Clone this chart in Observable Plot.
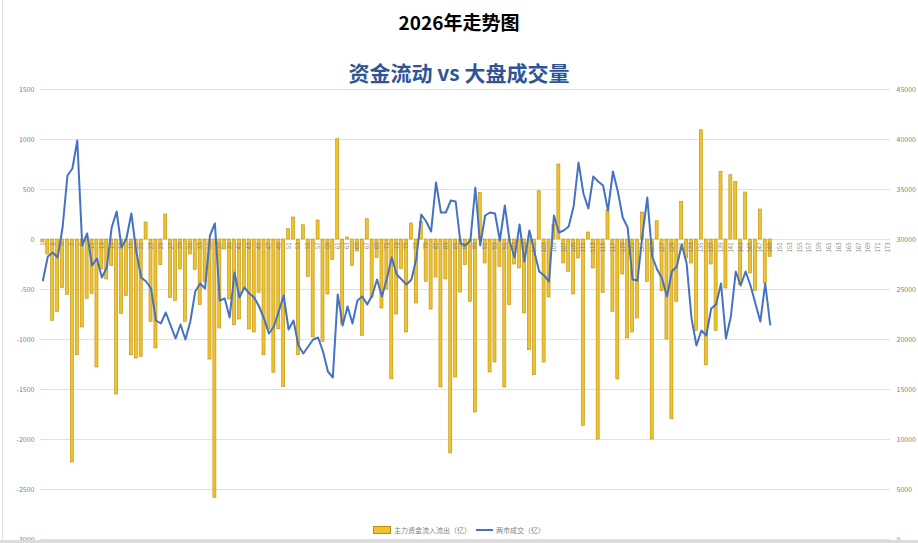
<!DOCTYPE html>
<html><head><meta charset="utf-8">
<script src="https://cdn.jsdelivr.net/npm/d3@7"></script>
<script src="https://cdn.jsdelivr.net/npm/@observablehq/plot@0.6"></script>
<style>
body{margin:0;width:918px;height:543px;overflow:hidden;background:#fff;font-family:"Noto Sans CJK SC","Noto Sans",sans-serif;position:relative}
#title{position:absolute;left:0;width:918px;top:9px;text-align:center;font-size:19px;font-weight:bold;color:#000;line-height:26px}
#subtitle{position:absolute;left:0;width:918px;top:58px;text-align:center;font-size:21px;font-weight:bold;color:#2F5597;line-height:28px}
#chart{position:absolute;left:0;top:80px}
#legend{position:absolute;top:524px;left:0;width:918px;display:flex;justify-content:center;align-items:center;font-size:7px;color:#808080;line-height:12px}
.sw{display:inline-block;margin-right:3px}
#frameL{position:absolute;left:2px;top:0;width:1px;height:543px;background:#e0e0e0}
#frameB{position:absolute;left:0;top:540px;width:918px;height:3px;background:#dcdcdc}
</style></head>
<body>
<div id="frameL"></div>
<div id="title">2026年走势图</div>
<div id="subtitle">资金流动 vs 大盘成交量</div>
<div id="chart"></div>
<div id="legend">
  <span class="sw" style="width:16px;height:6px;background:#F2C12E;border:1px solid #B8900A"></span><span style="margin-right:5px">主力资金流入流出（亿）</span>
  <span class="sw" style="width:17px;height:2px;background:#4472C4"></span><span>两市成交（亿）</span>
</div>
<div id="frameB"></div>
<script>
// categories (x axis)
const categories = [1,2,3,4,5,6,7,8,9,10,11,12,13,14,15,16,17,18,19,20,21,22,23,24,25,26,27,28,29,30,31,32,33,34,35,36,37,38,39,40,41,42,43,44,45,46,47,48,49,50,51,52,53,54,55,56,57,58,59,60,61,62,63,64,65,66,67,68,69,70,71,72,73,74,75,76,77,78,79,80,81,82,83,84,85,86,87,88,89,90,91,92,93,94,95,96,97,98,99,100,101,102,103,104,105,106,107,108,109,110,111,112,113,114,115,116,117,118,119,120,121,122,123,124,125,126,127,128,129,130,131,132,133,134,135,136,137,138,139,140,141,142,143,144,145,146,147,148,149,150,151,152,153,154,155,156,157,158,159,160,161,162,163,164,165,166,167,168,169,170,171,172,173];
// x tick labels (every other category)
const xTickLabels = [1,3,5,7,9,11,13,15,17,19,21,23,25,27,29,31,33,35,37,39,41,43,45,47,49,51,53,55,57,59,61,63,65,67,69,71,73,75,77,79,81,83,85,87,89,91,93,95,97,99,101,103,105,107,109,111,113,115,117,119,121,123,125,127,129,131,133,135,137,139,141,143,145,147,149,151,153,155,157,159,161,163,165,167,169,171,173];
// 主力资金流入流出（亿）— left axis
const flow = [-30,-150,-813,-723,-485,-553,-2230,-1157,-880,-593,-545,-1280,-300,-400,-263,-1550,-745,-565,-1157,-1190,
-1173,170,-823,-1090,-257,250,-585,-615,-300,-823,-150,-303,-653,-423,-1200,-2583,-890,-100,-600,-857,
-800,-500,-900,-930,-533,-1157,-900,-1333,-897,-1473,103,220,-1157,143,-373,-980,190,-1023,-550,-207,
1003,-850,20,-263,-120,-963,203,-583,-183,-690,-500,-1397,-750,-297,-930,160,-640,177,-423,-700,
-380,-1480,-400,-2140,-1380,-530,-257,-623,-1730,467,-240,-1330,-1230,-273,-1480,-657,-250,-290,-740,-1107,
-1357,483,-1230,-580,150,750,-240,-323,-550,-190,-1863,70,-290,-2000,-533,293,-723,-1400,-350,-990,
-930,-790,270,-423,-2000,183,-517,-1000,-1797,-623,377,-190,-240,-913,1093,-1257,-250,-913,677,-490,
643,577,-457,470,-340,-513,300,-440,-173];
// 两市成交（亿）— right axis
const volume = [25900,28300,28700,28200,31200,36400,37100,39900,29400,30600,27400,28100,26200,27200,31200,32800,29200,30100,32600,28800,
26200,25800,25100,21900,21600,22700,21400,20100,21500,20000,21800,24800,25600,25100,30400,31600,23900,24100,22200,26700,
24200,25200,24600,24200,23300,22100,20600,21300,22800,24400,21000,21900,19400,18600,19300,20000,20200,18800,16800,16200,
24500,21400,23300,21600,23900,24300,23500,24400,26000,24300,26100,28200,26500,26000,25500,26000,28100,32500,31800,30800,
35700,32700,32700,33900,33800,29600,29400,29900,35200,29400,32400,32700,32600,29900,33400,29800,28200,31500,27800,30900,
28800,26800,26400,25800,32400,30700,30900,31300,33300,37700,34600,33100,36300,35800,35400,32900,36800,34800,32200,31200,
26000,25900,30400,34200,28300,27000,26100,24300,26800,27300,29500,27600,22100,19400,20900,20400,23100,23500,25600,20100,
22300,26800,25400,26800,25400,23600,21800,25600,21500];
// axis ticks
const leftTicks = [-3000,-2500,-2000,-1500,-1000,-500,0,500,1000,1500];
const rightTicks = [0,5000,10000,15000,20000,25000,30000,35000,40000,45000];

// dual-axis mapping: right value r ↔ left value (r - 30000) / 10
const toLeft = r => (r - 30000) / 10;
const rows = flow.map((f, i) => ({cat: categories[i], flow: f, vol: volume[i]}));

const chart = Plot.plot({
  width: 918,
  height: 463,
  marginTop: 9,
  marginBottom: 4,
  marginLeft: 40,
  marginRight: 28,
  style: {fontFamily: "'Noto Sans CJK SC','Liberation Sans',sans-serif", background: "transparent"},
  x: {type: "band", domain: categories, paddingInner: 0.38, paddingOuter: 0.18, axis: null},
  y: {domain: [-3000, 1500], axis: null},
  marks: [
    Plot.ruleY(leftTicks, {stroke: "#d9d9d9", strokeWidth: 0.8}),
    Plot.barY(rows, {x: "cat", y: "flow", fill: "#F2C12E", stroke: "#B8900A", strokeWidth: 0.6}),
    Plot.line(rows, {x: "cat", y: d => toLeft(d.vol), stroke: "#4472C4", strokeWidth: 2, strokeLinejoin: "round"}),
    Plot.text(xTickLabels, {x: d => d, y: d => 0, text: d => String(d), rotate: -90, textAnchor: "end", lineAnchor: "middle", dy: 3, fontSize: 6, fill: "#808080"}),
    Plot.axisY({anchor: "left", ticks: leftTicks, tickFormat: d => String(d), tickSize: 0, tickPadding: 6, fontSize: 7, fill: "#808080", label: null}),
    Plot.axisY({anchor: "right", ticks: rightTicks.map(toLeft), tickFormat: d => String(Math.round(d * 10 + 30000)), tickSize: 0, tickPadding: 6, fontSize: 7, fill: "#808080", label: null})
  ]
});
document.getElementById("chart").appendChild(chart);
</script>
</body></html>
